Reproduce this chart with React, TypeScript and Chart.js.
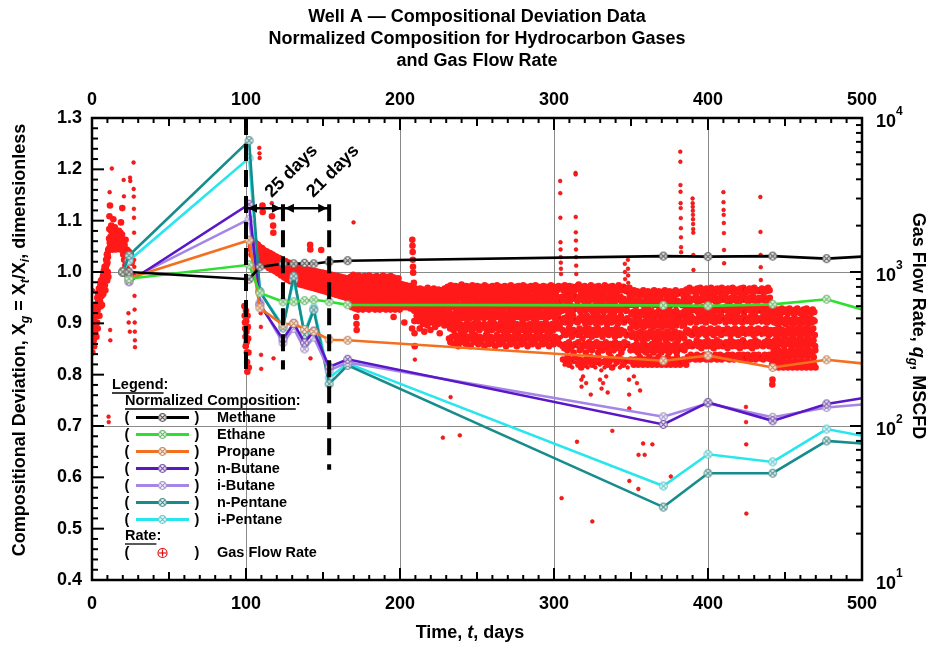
import { useEffect, useRef } from "react";
import { Chart, registerables } from "chart.js";

Chart.register(...registerables);

const FONT = "'Liberation Sans', Arial, Helvetica, sans-serif";

// ---- Normalized composition (X_t / X_i) at each gas sample ----
const sampleDays = [20, 24, 102, 109, 124, 131, 138, 144, 154, 166, 371, 400, 442, 477, 500];
const methane = [1.0, 1.0, 0.986, 1.01, 1.016, 1.016, 1.017, 1.016, 1.02, 1.022, 1.031, 1.03, 1.031, 1.026, 1.03];
const ethane = [1.0, 0.987, 1.014, 0.959, 0.942, 0.942, 0.944, 0.946, 0.942, 0.936, 0.935, 0.934, 0.937, 0.947, 0.927];
const propane = [1.0, 0.988, 1.062, 0.93, 0.897, 0.9, 0.888, 0.884, 0.868, 0.867, 0.827, 0.837, 0.814, 0.829, 0.822];
const nButane = [1.0, 0.981, 1.132, 0.936, 0.869, 0.9, 0.862, 0.885, 0.815, 0.83, 0.703, 0.746, 0.71, 0.743, 0.754];
const iButane = [1.0, 0.985, 1.103, 0.94, 0.862, 0.89, 0.85, 0.873, 0.808, 0.824, 0.718, 0.744, 0.717, 0.736, 0.742];
const nPentane = [1.0, 1.032, 1.256, 0.962, 0.891, 0.992, 0.878, 0.926, 0.782, 0.818, 0.542, 0.608, 0.608, 0.671, 0.666];
const iPentane = [1.0, 1.022, 1.222, 0.962, 0.895, 0.985, 0.882, 0.93, 0.794, 0.822, 0.583, 0.645, 0.63, 0.694, 0.681];

// ---- Gas flow rate readings, MSCFD: [day, reading, reading, ...] spread through the day ----
const rateStartup = [
  [0, 330, 410, 300, 450, 360, 520, 760, 380, 340],
  [1, 420, 360, 480, 330, 540, 390, 610],
  [2, 470, 400, 560, 440, 600, 520, 380],
  [3, 520, 610, 470, 680, 560, 430, 730],
  [4, 640, 720, 590, 780, 690, 520],
  [5, 700, 760, 640, 820, 690, 600, 880],
  [6, 780, 850, 700, 610, 900, 740],
  [7, 820, 950, 720, 880, 1020, 760],
  [8, 900, 1080, 820, 990, 760, 1040],
  [9, 1050, 1200, 960, 1120, 1300, 880],
  [10, 1150, 1320, 1000, 1250, 1390, 930, 115, 106],
  [11, 1420, 1650, 1900, 2300, 3300, 1550, 2700, 420, 360],
  [12, 1500, 1700, 1450, 1850, 2000, 1600, 1400, 4700],
  [13, 1600, 1450, 1750, 1900, 1400, 1650, 2200],
  [14, 1500, 1700, 1850, 1420, 1600, 1950],
  [15, 1450, 1600, 1800, 1400, 1700, 1550],
  [16, 1500, 1650, 1800, 1420, 1750, 1580],
  [17, 1600, 1750, 1450, 1850, 1550, 1700],
  [18, 1550, 1700, 1400, 1800, 1650, 2100],
  [19, 1480, 1650, 1400, 1750, 2600, 1600],
  [20, 1400, 1550, 1300, 1620, 3960, 3100, 1200],
  [21, 1300, 1500, 1200, 1400, 1100, 1620],
  [22, 1250, 1350, 1200, 1400, 1050, 1300],
  [23, 1300, 1380, 1220, 1350, 540, 470],
  [24, 1250, 1350, 1200, 1300, 410, 4100, 3900],
  [25, 1200, 1300, 1260, 1150],
  [27, 5140, 3460, 3090, 2570, 2250, 1800, 1200, 1080, 950, 700, 570, 470, 410, 360, 325],
];

const rateRestart = [
  [99, 600, 520, 470, 430, 380, 330],
  [100, 560, 480, 410, 350, 300, 260, 225],
  [101, 520, 440, 370, 300, 240],
  [103, 1610, 1470, 1390, 1300, 1540],
  [104, 1550, 1440, 1320, 1600, 1270],
  [105, 1490, 1400, 1310, 1570, 1250],
  [106, 1480, 1350, 1270, 1530, 1230],
  [107, 1420, 1340, 1260, 1510, 1190],
  [108, 1410, 1290, 1220, 1470, 1180, 6400, 5900, 5500],
  [109, 1370, 1290, 1200, 1440, 1160, 540, 440, 290, 235],
  [110, 1360, 1250, 1180, 1430, 1140, 2700, 2450],
  [111, 1320, 1250, 1160, 1390, 1130],
  [112, 1320, 1210, 1160, 1370, 1100],
  [113, 1280, 1210, 1120, 1360, 1100],
  [114, 1280, 1170, 1130, 1330, 1060],
  [115, 1240, 1180, 1090, 1330, 1070],
  [116, 1250, 1140, 1100, 1290, 1040, 2800, 2300],
  [117, 1210, 1150, 1070, 1300, 1040, 2000, 1800, 275],
  [118, 1210, 1110, 1070, 1260, 1010],
  [119, 1180, 1120, 1040, 1260, 1010],
  [120, 1180, 1080, 1040, 1230, 980],
  [121, 1150, 1090, 1010, 1230, 980],
  [122, 1160, 1050, 1010, 1200, 950],
  [123, 1120, 1060, 980, 1200, 950],
  [124, 1130, 1030, 980, 1170, 920],
  [125, 1090, 1040, 950, 1180, 920],
  [126, 1100, 1000, 960, 1140, 890],
  [127, 1070, 1010, 930, 1150, 900],
  [128, 1080, 980, 940, 1120, 870],
  [129, 1050, 990, 910, 1130, 880],
  [130, 1060, 960, 920, 1100, 860],
  [131, 1030, 970, 890, 1110, 870],
  [132, 1040, 940, 900, 1080, 850],
  [133, 1010, 950, 880, 1090, 850],
  [134, 1020, 930, 880, 1060, 830],
  [135, 990, 940, 860, 1070, 840],
  [136, 1000, 910, 870, 1040, 820],
  [137, 980, 920, 850, 1050, 830],
  [138, 990, 900, 860, 1030, 810],
  [139, 960, 910, 840, 1040, 820],
  [140, 970, 890, 850, 1020, 800],
  [141, 950, 900, 830, 1030, 800, 1500, 1400, 275],
  [142, 960, 880, 840, 1010, 790],
  [143, 940, 890, 820, 1020, 790],
  [144, 950, 870, 830, 1000, 780],
  [145, 930, 880, 810, 1010, 780],
  [146, 940, 860, 820, 990, 770],
  [147, 920, 870, 800, 1000, 770],
  [148, 930, 850, 810, 980, 760, 1390],
  [149, 910, 860, 790, 990, 760],
  [150, 920, 840, 800, 970, 750],
  [151, 900, 850, 780, 980, 750],
  [152, 910, 830, 790, 960, 740],
  [153, 890, 840, 770, 970, 740],
  [154, 900, 820, 780, 950, 730],
  [155, 880, 830, 760, 960, 730],
  [156, 890, 810, 770, 940, 720],
  [157, 870, 820, 750, 950, 720],
  [158, 880, 800, 760, 930, 710],
  [159, 860, 810, 740, 940, 710],
  [160, 870, 790, 750, 920, 700],
  [161, 850, 800, 730, 930, 700],
  [162, 860, 780, 740, 910, 690],
  [163, 840, 790, 720, 920, 690],
  [164, 850, 770, 730, 900, 680],
  [165, 830, 780, 710, 910, 680],
  [166, 840, 760, 720, 890, 670],
  [167, 820, 770, 700, 900, 670],
];

const rateMidA = [
  [168, 930, 830, 740, 660, 590],
  [169, 880, 800, 720, 640, 960, 2100],
  [170, 940, 810, 730, 670, 580],
  [171, 900, 790, 760, 650, 600, 510, 460, 420],
  [172, 920, 840, 700, 630, 570],
  [173, 950, 780, 750, 680, 600],
  [174, 870, 820, 720, 640, 590],
  [175, 930, 800, 740, 660, 570],
  [176, 890, 850, 710, 630, 610],
  [177, 940, 770, 730, 690, 580],
  [178, 900, 820, 760, 650, 600],
  [179, 880, 790, 700, 620, 570],
  [180, 950, 840, 740, 670, 590],
  [181, 910, 800, 720, 640, 600],
  [182, 870, 780, 750, 660, 580],
  [183, 930, 830, 710, 630, 570],
  [184, 890, 810, 740, 680, 600],
  [185, 940, 790, 720, 650, 590],
  [186, 900, 840, 760, 630, 570],
  [187, 880, 770, 700, 660, 610],
  [188, 920, 820, 730, 640, 580],
  [189, 950, 800, 750, 670, 590],
  [190, 870, 790, 720, 620, 570],
  [191, 910, 830, 740, 650, 600],
  [192, 930, 780, 710, 680, 580],
  [193, 890, 820, 760, 640, 570],
  [194, 940, 800, 730, 660, 590],
  [195, 880, 840, 700, 630, 600, 510],
  [196, 920, 790, 740, 670, 570],
  [197, 900, 810, 720, 650, 580],
  [198, 870, 780, 750, 630, 590],
  [199, 910, 830, 710, 660, 570],
  [200, 840, 760, 690, 630, 600],
  [201, 810, 740, 700, 620, 590],
  [202, 830, 770, 680, 640, 600, 470],
  [203, 800, 750, 690, 630, 590],
  [204, 820, 730, 680, 620, 600],
  [205, 790, 760, 700, 640, 590],
  [206, 810, 740, 670, 610, 580],
  [207, 780, 730, 690, 630, 600, 430],
  [208, 1620, 1480, 1350, 1200, 1080, 990, 800, 720, 650],
  [209, 850, 700, 560, 480, 400, 330, 270, 620, 760],
  [210, 780, 700, 640, 580, 520],
  [211, 760, 680, 610, 540, 480],
  [212, 740, 650, 590, 520, 430],
  [213, 780, 700, 620, 560, 490],
  [214, 720, 660, 580, 510, 460],
  [215, 770, 690, 600, 550, 410],
  [216, 750, 640, 620, 530, 480],
  [217, 730, 680, 570, 500, 450],
  [218, 790, 700, 610, 540, 490],
  [219, 740, 660, 590, 520, 420],
  [220, 760, 690, 630, 560, 470],
  [221, 720, 650, 580, 510, 490],
  [222, 780, 670, 600, 550, 440],
  [223, 750, 700, 620, 530, 480],
  [224, 730, 640, 570, 500, 460],
  [225, 770, 690, 610, 540, 400],
  [226, 740, 660, 590, 520, 480],
  [227, 760, 680, 630, 560, 490, 84],
  [228, 720, 650, 580, 510, 450],
  [229, 780, 700, 600, 540, 470],
  [230, 750, 670, 620, 530, 490],
];

const rateMidB = [
  [231, 800, 690, 610, 520, 450, 370],
  [232, 760, 700, 580, 540, 430, 350, 154],
  [233, 820, 660, 600, 500, 460, 380],
  [234, 780, 710, 630, 530, 420, 340],
  [235, 740, 680, 590, 510, 470, 390],
  [236, 810, 650, 620, 550, 440, 360],
  [237, 770, 700, 570, 490, 430, 330],
  [238, 800, 670, 610, 540, 460, 380, 87],
  [239, 750, 720, 600, 520, 410, 350],
  [240, 830, 680, 580, 500, 450, 370],
  [241, 790, 660, 630, 530, 440, 390],
  [242, 760, 700, 590, 560, 420, 340],
  [243, 810, 690, 610, 510, 470, 360],
  [244, 740, 650, 570, 540, 430, 380],
  [245, 800, 710, 620, 500, 450, 330],
  [246, 770, 680, 600, 530, 410, 370],
  [247, 820, 670, 580, 550, 460, 350],
  [248, 750, 700, 610, 520, 440, 390],
  [249, 790, 660, 590, 490, 430, 360],
  [250, 810, 720, 630, 540, 470, 340],
  [251, 760, 680, 570, 510, 420, 380],
  [252, 800, 650, 600, 530, 450, 350],
  [253, 780, 700, 620, 560, 440, 370],
  [254, 740, 690, 580, 500, 460, 330],
  [255, 820, 660, 610, 520, 430, 390],
  [256, 770, 710, 590, 540, 410, 360],
  [257, 800, 680, 600, 510, 450, 340],
  [258, 750, 670, 630, 550, 470, 380],
  [259, 790, 700, 570, 530, 420, 350],
  [260, 810, 650, 610, 490, 440, 370],
  [261, 760, 720, 590, 520, 460, 330],
  [262, 780, 690, 620, 540, 430, 390],
  [263, 820, 660, 580, 510, 450, 360],
  [264, 740, 700, 600, 550, 420, 340],
  [265, 800, 680, 630, 500, 470, 380],
  [266, 770, 670, 570, 530, 440, 350],
  [267, 790, 710, 610, 520, 410, 370],
  [268, 810, 650, 590, 540, 460, 330],
  [269, 750, 690, 620, 490, 430, 390],
  [270, 800, 720, 600, 510, 450, 360],
  [271, 760, 680, 580, 550, 420, 340],
  [272, 820, 660, 610, 530, 470, 380],
  [273, 780, 700, 590, 500, 440, 350],
  [274, 740, 690, 630, 520, 410, 370],
  [275, 800, 670, 570, 540, 460, 330],
  [276, 770, 710, 600, 510, 430, 390],
  [277, 810, 650, 620, 530, 450, 360],
  [278, 750, 680, 580, 560, 420, 340],
  [279, 790, 720, 610, 490, 470, 380],
  [280, 820, 690, 590, 520, 440, 350],
  [281, 760, 660, 630, 540, 410, 370],
  [282, 800, 700, 570, 500, 450, 330],
  [283, 780, 670, 600, 530, 430, 390],
  [284, 740, 710, 620, 550, 460, 360],
  [285, 810, 680, 590, 510, 420, 340],
  [286, 770, 650, 610, 520, 470, 380],
  [287, 790, 690, 580, 540, 440, 350],
  [288, 820, 720, 600, 490, 410, 370],
  [289, 750, 660, 630, 530, 450, 330],
  [290, 800, 700, 570, 550, 430, 390],
  [291, 760, 680, 610, 510, 460, 360],
  [292, 780, 670, 590, 520, 420, 340],
  [293, 810, 710, 620, 540, 440, 380],
  [294, 740, 650, 600, 500, 470, 350],
  [295, 800, 690, 580, 530, 410, 370],
  [296, 770, 720, 630, 510, 450, 330],
  [297, 790, 660, 570, 550, 430, 390],
  [298, 820, 700, 610, 520, 460, 360],
  [299, 750, 680, 590, 540, 420, 340],
  [300, 800, 670, 620, 500, 440, 380],
  [301, 780, 710, 600, 530, 470, 350],
  [302, 760, 690, 580, 510, 430, 370],
  [303, 810, 650, 610, 550, 450, 340],
  [304, 3900, 3250, 2250, 1560, 1400, 1250, 1150, 1050, 970, 800, 650, 500, 380, 34],
];

const rateLateA = [
  [305, 800, 690, 560, 480, 420, 330, 270],
  [306, 760, 650, 590, 500, 400, 320, 250],
  [307, 820, 700, 570, 470, 390, 340, 260],
  [308, 780, 660, 600, 510, 410, 310, 280],
  [309, 740, 680, 550, 490, 430, 350, 250],
  [310, 810, 640, 580, 460, 400, 320, 270],
  [311, 770, 710, 600, 500, 380, 330, 240],
  [312, 800, 670, 560, 520, 420, 300, 260],
  [313, 750, 690, 590, 480, 410, 340, 280],
  [314, 4400, 4300, 2280, 1810, 1600, 1400, 1250, 1100, 970, 820, 700, 570, 490, 400, 330, 260, 79],
  [315, 790, 650, 610, 470, 390, 350, 250],
  [316, 830, 680, 570, 500, 430, 310, 270],
  [317, 760, 700, 550, 490, 400, 320, 240, 200, 180],
  [318, 800, 660, 590, 510, 370, 330, 260, 210],
  [319, 740, 690, 600, 480, 420, 340, 250],
  [320, 810, 640, 560, 460, 410, 300, 270, 190],
  [321, 770, 670, 580, 520, 390, 330, 240],
  [322, 790, 710, 610, 500, 430, 350, 260],
  [323, 750, 650, 570, 470, 400, 320, 280, 160],
  [324, 820, 680, 590, 490, 380, 310, 250, 24],
  [325, 780, 700, 550, 510, 420, 340, 270],
  [326, 760, 660, 600, 480, 410, 330, 240],
  [327, 800, 690, 570, 460, 390, 350, 260],
  [328, 740, 640, 580, 520, 430, 300, 280],
  [329, 810, 670, 560, 500, 400, 320, 250, 200],
  [330, 770, 710, 590, 470, 410, 340, 230, 175],
  [331, 790, 650, 610, 490, 380, 310, 260, 190],
  [332, 750, 680, 550, 510, 420, 330, 240],
  [333, 820, 700, 600, 480, 400, 350, 270, 210],
  [334, 780, 660, 570, 460, 430, 320, 250, 165],
  [335, 760, 690, 580, 500, 390, 300, 260],
  [336, 800, 640, 560, 520, 410, 340, 280],
  [337, 740, 670, 610, 470, 420, 330, 240, 93],
  [338, 810, 710, 590, 490, 400, 310, 270],
  [339, 770, 650, 550, 510, 380, 350, 250],
  [340, 790, 680, 600, 480, 430, 320, 260],
  [341, 750, 700, 570, 460, 410, 330, 280],
  [342, 820, 660, 580, 500, 390, 340, 240],
  [343, 780, 690, 560, 520, 420, 300, 270],
  [344, 760, 640, 600, 490, 400, 320, 250],
  [345, 800, 670, 590, 470, 410, 350, 260],
  [346, 1130, 1000, 900, 800, 740, 610, 550, 480, 380, 330, 270],
  [347, 770, 650, 560, 500, 390, 340, 240],
  [348, 1200, 1050, 950, 850, 720, 600, 480, 400, 330, 260, 200, 160, 130, 44],
  [349, 790, 690, 610, 480, 430, 310, 270],
  [350, 740, 640, 530, 470, 380, 320, 260],
  [351, 700, 610, 550, 450, 400, 330, 250, 210],
  [352, 760, 650, 520, 480, 390, 310, 270],
  [353, 720, 600, 560, 440, 370, 340, 260, 190],
  [354, 750, 630, 540, 460, 400, 300, 250, 39, 65],
  [355, 690, 660, 510, 490, 380, 330, 280, 170],
  [356, 740, 620, 550, 450, 410, 320, 260],
  [357, 710, 640, 530, 470, 360, 310, 250, 77],
  [358, 760, 610, 560, 440, 390, 340, 270, 65],
  [359, 730, 650, 520, 480, 400, 300, 260],
  [360, 700, 630, 540, 460, 370, 330, 250],
  [361, 750, 600, 550, 450, 390, 320, 280],
  [362, 720, 660, 510, 490, 410, 310, 260],
  [363, 740, 620, 560, 470, 380, 340, 250, 76],
  [364, 690, 640, 530, 440, 400, 300, 270],
  [365, 760, 610, 540, 480, 360, 330, 260],
  [366, 710, 650, 520, 460, 390, 320, 250],
  [367, 730, 630, 550, 450, 410, 310, 280],
  [368, 750, 600, 560, 470, 370, 340, 260],
  [369, 700, 660, 510, 490, 380, 300, 250],
  [370, 740, 620, 540, 440, 400, 330, 270],
  [371, 720, 640, 530, 480, 390, 320, 260],
  [372, 760, 610, 550, 460, 360, 310, 250],
  [373, 690, 650, 520, 450, 410, 340, 280],
  [374, 730, 630, 560, 470, 380, 300, 260],
  [375, 750, 600, 540, 490, 400, 330, 250, 47],
  [376, 710, 660, 510, 440, 370, 320, 270],
  [377, 740, 620, 550, 460, 390, 310, 260],
  [378, 700, 640, 530, 480, 410, 340, 250],
  [379, 760, 610, 560, 450, 380, 300, 280],
  [380, 720, 650, 520, 470, 360, 330, 260],
  [381, 740, 630, 540, 490, 400, 320, 250],
  [382, 6040, 5200, 3670, 3320, 2800, 2600, 2240, 1925, 1680, 1450, 1345, 720, 600, 520, 440, 380, 310, 260],
  [383, 750, 620, 530, 470, 390, 330, 270],
  [384, 710, 660, 550, 450, 370, 310, 260],
  [385, 730, 600, 510, 480, 410, 340, 250],
];

const rateLateB = [
  [386, 770, 650, 580, 480, 420, 330, 280],
  [387, 740, 680, 550, 500, 400, 350, 270],
  [388, 790, 640, 590, 470, 410, 340, 290],
  [389, 750, 670, 560, 510, 390, 330, 275],
  [390, 3000, 2800, 2650, 2500, 2350, 2200, 2050, 1900, 1800, 1290, 1030, 780, 660, 560, 480, 400, 330, 280],
  [391, 760, 660, 570, 490, 430, 340, 270],
  [392, 730, 690, 590, 470, 410, 360, 290],
  [393, 780, 640, 550, 500, 390, 330, 280],
  [394, 750, 670, 580, 520, 420, 350, 270],
  [395, 790, 650, 560, 480, 400, 320, 285],
  [396, 740, 680, 590, 490, 430, 340, 275],
  [397, 770, 660, 570, 510, 410, 350, 290],
  [398, 750, 690, 550, 470, 390, 330, 270],
  [399, 780, 640, 580, 500, 420, 360, 280],
  [400, 760, 670, 560, 490, 400, 340, 290],
  [401, 730, 650, 590, 520, 430, 330, 270],
  [402, 790, 680, 570, 480, 410, 350, 280],
  [403, 750, 660, 550, 500, 390, 320, 275],
  [404, 770, 690, 580, 470, 420, 340, 290],
  [405, 740, 640, 560, 510, 400, 360, 270],
  [406, 780, 670, 590, 490, 430, 330, 280],
  [407, 760, 650, 570, 480, 410, 350, 290],
  [408, 730, 680, 550, 520, 390, 340, 270],
  [409, 790, 660, 580, 500, 420, 330, 285],
  [410, 3300, 2840, 2530, 2350, 2080, 1790, 1390, 1140, 750, 660, 560, 490, 410, 340, 280],
  [411, 770, 690, 590, 470, 400, 350, 275],
  [412, 740, 650, 560, 510, 430, 320, 290],
  [413, 780, 670, 580, 490, 410, 340, 270],
  [414, 760, 640, 550, 480, 390, 360, 280],
  [415, 750, 680, 590, 500, 420, 330, 290],
  [416, 790, 660, 570, 520, 400, 350, 270],
  [417, 730, 690, 560, 470, 430, 340, 285],
  [418, 770, 650, 580, 490, 410, 330, 275],
  [419, 760, 670, 550, 510, 390, 350, 290],
  [420, 740, 640, 590, 480, 420, 320, 270],
  [421, 780, 680, 570, 500, 400, 340, 280],
  [422, 750, 660, 560, 470, 430, 360, 290],
  [423, 790, 690, 580, 520, 410, 330, 270],
  [424, 770, 650, 550, 490, 390, 350, 280, 133, 106, 76, 27],
  [425, 740, 670, 590, 480, 420, 340, 290],
  [426, 760, 640, 570, 500, 400, 330, 275],
  [427, 780, 680, 560, 510, 430, 350, 270],
  [428, 750, 660, 580, 470, 410, 320, 285],
  [429, 730, 690, 550, 490, 390, 340, 290],
  [430, 790, 650, 590, 520, 420, 360, 270],
  [431, 770, 670, 570, 480, 400, 330, 280],
  [432, 750, 640, 560, 500, 430, 350, 290],
  [433, 760, 680, 580, 490, 410, 340, 275],
  [434, 3070, 1820, 1290, 1075, 887, 740, 660, 550, 470, 390, 330, 280],
  [435, 780, 660, 590, 510, 420, 330, 270],
  [436, 740, 690, 550, 480, 400, 350, 290],
  [437, 770, 650, 570, 500, 430, 340, 280],
  [438, 750, 670, 580, 470, 410, 360, 275],
  [439, 790, 640, 560, 520, 390, 330, 290],
  [440, 760, 680, 590, 490, 420, 350, 270],
  [441, 570, 480, 410, 350, 290, 250, 186, 200],
  [442, 550, 500, 400, 340, 310, 240],
  [443, 580, 470, 420, 360, 300, 260],
  [444, 540, 490, 390, 330, 280, 250],
  [445, 560, 460, 410, 370, 310, 240],
  [446, 570, 500, 430, 350, 290, 260],
  [447, 530, 470, 400, 340, 300, 250],
  [448, 580, 490, 420, 360, 280, 240],
  [449, 550, 480, 390, 330, 310, 260],
  [450, 560, 460, 410, 370, 290, 250],
  [451, 570, 500, 400, 350, 300, 240],
  [452, 540, 470, 430, 340, 280, 260],
  [453, 580, 490, 410, 360, 310, 250],
  [454, 550, 480, 390, 330, 290, 240],
  [455, 560, 460, 420, 370, 300, 260],
  [456, 530, 500, 400, 350, 280, 250],
  [457, 570, 470, 410, 340, 310, 240],
  [458, 580, 490, 430, 360, 290, 260],
  [459, 550, 480, 390, 330, 300, 250],
  [460, 540, 460, 420, 370, 280, 240],
  [461, 560, 500, 400, 350, 310, 260],
  [462, 570, 470, 410, 340, 290, 250],
  [463, 530, 490, 430, 360, 300, 240],
  [464, 580, 480, 390, 330, 280, 260],
  [465, 550, 460, 420, 370, 310, 250],
  [466, 560, 500, 400, 350, 290, 240],
  [467, 540, 470, 410, 340, 300, 260],
  [468, 570, 490, 430, 360, 280, 250],
  [469, 550, 480, 390, 330, 310, 240],
];

// ---- Axis labels and event annotations ----
const timeLabels = [0, 100, 200, 300, 400, 500];
const deviationLabels = [0.4, 0.5, 0.6, 0.7, 0.8, 0.9, 1.0, 1.1, 1.2, 1.3];
const rateDecades = [1, 2, 3, 4];
const timeGrid = [100, 200, 300, 400];
const rateGrid = [100, 1000];
const eventDays = [100, 124, 154];
const eventLabels = ["25 days", "21 days"];

const compositions = [
  { name: "Methane", values: methane, color: "#000000", mark: "#5c5c5c" },
  { name: "Ethane", values: ethane, color: "#2ee02e", mark: "#6fb86f" },
  { name: "Propane", values: propane, color: "#f5701e", mark: "#c48a62" },
  { name: "n-Butane", values: nButane, color: "#5a17c8", mark: "#7a5aa8" },
  { name: "i-Butane", values: iButane, color: "#a586e6", mark: "#a596c8" },
  { name: "n-Pentane", values: nPentane, color: "#178c8c", mark: "#4f8f8f" },
  { name: "i-Pentane", values: iPentane, color: "#28e6ee", mark: "#66c8cc" },
];

type Seg = { s: string; it?: boolean; sub?: boolean; sup?: boolean };

function segFont(g: Seg, size: number) {
  const sz = g.sub || g.sup ? size * 0.68 : size;
  return `${g.it ? "italic " : ""}bold ${sz}px ${FONT}`;
}
function richWidth(ctx: CanvasRenderingContext2D, segs: Seg[], size: number) {
  let w = 0;
  for (const g of segs) {
    ctx.font = segFont(g, size);
    w += ctx.measureText(g.s).width;
  }
  return w;
}
function drawRich(ctx: CanvasRenderingContext2D, segs: Seg[], x: number, y: number, size: number) {
  ctx.textAlign = "left";
  ctx.textBaseline = "middle";
  let cx = x;
  for (const g of segs) {
    ctx.font = segFont(g, size);
    const dy = g.sub ? size * 0.32 : g.sup ? -size * 0.42 : 0;
    ctx.fillText(g.s, cx, y + dy);
    cx += ctx.measureText(g.s).width;
  }
}
function drawRichCentered(ctx: CanvasRenderingContext2D, segs: Seg[], cx: number, cy: number, size: number, angle: number) {
  ctx.save();
  ctx.translate(cx, cy);
  ctx.rotate(angle);
  const w = richWidth(ctx, segs, size);
  drawRich(ctx, segs, -w / 2, 0, size);
  ctx.restore();
}

// Readings of a day are spread evenly across that day. Readings that sit with the
// bulk of their day form the continuous production band; the rest are excursions.
function expandReadings(rows: number[][]) {
  const pts: { x: number; y: number; band: boolean }[] = [];
  for (const row of rows) {
    const vals = row.slice(1);
    const n = vals.length;
    const sorted = [...vals].sort((a, b) => a - b);
    const median = sorted[Math.floor(n / 2)];
    vals.forEach((q, k) => {
      const band = n <= 9 && Math.abs(Math.log10(q / median)) < 0.3;
      pts.push({ x: row[0] + k / n, y: q, band });
    });
  }
  return pts;
}

function makeCrossMarker(color: string) {
  const c = document.createElement("canvas");
  c.width = 11;
  c.height = 11;
  const g = c.getContext("2d")!;
  g.strokeStyle = color;
  g.lineWidth = 1.2;
  g.fillStyle = "rgba(255,255,255,0.85)";
  g.beginPath();
  g.arc(5.5, 5.5, 3.8, 0, Math.PI * 2);
  g.fill();
  g.stroke();
  const d = 2.6;
  g.beginPath();
  g.moveTo(5.5 - d, 5.5 - d);
  g.lineTo(5.5 + d, 5.5 + d);
  g.moveTo(5.5 + d, 5.5 - d);
  g.lineTo(5.5 - d, 5.5 + d);
  g.stroke();
  return c;
}

function line(ctx: CanvasRenderingContext2D, x1: number, y1: number, x2: number, y2: number) {
  ctx.beginPath();
  ctx.moveTo(x1, y1);
  ctx.lineTo(x2, y2);
  ctx.stroke();
}

function arrowHead(ctx: CanvasRenderingContext2D, x: number, y: number, dir: number) {
  ctx.beginPath();
  ctx.moveTo(x, y);
  ctx.lineTo(x - dir * 9, y - 4.5);
  ctx.lineTo(x - dir * 9, y + 4.5);
  ctx.closePath();
  ctx.fill();
}

function underlined(ctx: CanvasRenderingContext2D, text: string, x: number, y: number, tail: string) {
  ctx.textAlign = "left";
  ctx.textBaseline = "middle";
  ctx.fillText(text + tail, x, y);
  const w = ctx.measureText(text).width;
  ctx.lineWidth = 1.3;
  line(ctx, x, y + 8, x + w, y + 8);
}

export default function App() {
  const canvasRef = useRef<HTMLCanvasElement | null>(null);

  useEffect(() => {
    const canvas = canvasRef.current;
    if (!canvas) return;
    const markers = compositions.map((c) => makeCrossMarker(c.mark));
    const last = sampleDays.length - 1;
    const arrowLevel = 1.124;

    const decor = {
      id: "decor",
      beforeDraw(chart: any) {
        const { ctx } = chart;
        ctx.save();
        ctx.fillStyle = "#ffffff";
        ctx.fillRect(0, 0, chart.width, chart.height);
        ctx.restore();
      },
      beforeDatasetsDraw(chart: any) {
        const { ctx, chartArea: a, scales } = chart;
        ctx.save();
        ctx.strokeStyle = "#8a8a8a";
        ctx.lineWidth = 1;
        for (const t of timeGrid) {
          const px = Math.round(scales.x.getPixelForValue(t)) + 0.5;
          line(ctx, px, a.top, px, a.bottom);
        }
        for (const q of rateGrid) {
          const py = Math.round(scales.yRate.getPixelForValue(q)) + 0.5;
          line(ctx, a.left, py, a.right, py);
        }
        ctx.restore();
      },
      afterDatasetsDraw(chart: any) {
        const { ctx, chartArea: a, scales } = chart;
        const X = (t: number) => scales.x.getPixelForValue(t);
        const Y = (v: number) => scales.y.getPixelForValue(v);
        const YR = (q: number) => scales.yRate.getPixelForValue(q);
        ctx.save();

        // event markers: dashed verticals, spans and labels
        const ay = Y(arrowLevel);
        ctx.strokeStyle = "#000";
        ctx.fillStyle = "#000";
        ctx.lineWidth = 4;
        ctx.setLineDash([17, 9]);
        line(ctx, X(eventDays[0]), a.top, X(eventDays[0]), Y(0.805));
        line(ctx, X(eventDays[1]), ay - 4, X(eventDays[1]), Y(0.81));
        line(ctx, X(eventDays[2]), ay - 4, X(eventDays[2]), Y(0.615));
        ctx.setLineDash([]);
        ctx.lineWidth = 2.5;
        line(ctx, X(eventDays[0]), ay, X(eventDays[2]), ay);
        arrowHead(ctx, X(eventDays[0]) + 2, ay, -1);
        arrowHead(ctx, X(eventDays[1]) - 2, ay, 1);
        arrowHead(ctx, X(eventDays[1]) + 2, ay, -1);
        arrowHead(ctx, X(eventDays[2]) - 2, ay, 1);
        ctx.font = `bold 18px ${FONT}`;
        ctx.textAlign = "center";
        ctx.textBaseline = "middle";
        for (let i = 0; i < 2; i++) {
          const mid = (X(eventDays[i]) + X(eventDays[i + 1])) / 2;
          ctx.save();
          ctx.translate(mid + 27, ay - 37);
          ctx.rotate(-Math.PI / 4);
          ctx.fillText(eventLabels[i], 0, 0);
          ctx.restore();
        }

        // inward ticks
        ctx.strokeStyle = "#000";
        ctx.lineWidth = 2;
        for (let t = 0; t <= 500; t += 10) {
          const len = t % 100 === 0 ? 12 : t % 50 === 0 ? 8 : 5;
          const px = X(t);
          line(ctx, px, a.bottom, px, a.bottom - len);
          line(ctx, px, a.top, px, a.top + len);
        }
        for (let i = 0; i <= 45; i++) {
          const py = Y(0.4 + i * 0.02);
          line(ctx, a.left, py, a.left + (i % 5 === 0 ? 12 : 6), py);
        }
        for (let d = 1; d <= 3; d++) {
          for (let m = 1; m <= 9; m++) {
            const py = YR(m * Math.pow(10, d));
            line(ctx, a.right, py, a.right - (m === 1 ? 12 : 6), py);
          }
        }
        // frame
        ctx.lineWidth = 2.5;
        ctx.strokeRect(a.left, a.top, a.right - a.left, a.bottom - a.top);

        // tick labels
        ctx.fillStyle = "#000";
        ctx.font = `bold 18px ${FONT}`;
        ctx.textAlign = "center";
        ctx.textBaseline = "middle";
        for (const t of timeLabels) {
          ctx.fillText(String(t), X(t), a.top - 18);
          ctx.fillText(String(t), X(t), a.bottom + 24);
        }
        ctx.textAlign = "right";
        for (const v of deviationLabels) ctx.fillText(v.toFixed(1), a.left - 10, Y(v));
        for (const d of rateDecades) {
          const py = YR(Math.pow(10, d));
          ctx.font = `bold 18px ${FONT}`;
          ctx.textAlign = "left";
          ctx.fillText("10", a.right + 14, py + 4);
          ctx.font = `bold 12px ${FONT}`;
          ctx.fillText(String(d), a.right + 34, py - 6);
        }

        // axis titles
        drawRichCentered(ctx, [{ s: "Time, " }, { s: "t", it: true }, { s: ", days" }], (a.left + a.right) / 2 - 7, a.bottom + 53, 18, 0);
        drawRichCentered(
          ctx,
          [
            { s: "Compositional Deviation, X" },
            { s: "g", it: true, sub: true },
            { s: " = X" },
            { s: "t", it: true, sub: true },
            { s: "/X" },
            { s: "i", it: true, sub: true },
            { s: ", dimensionless" },
          ],
          20,
          340,
          18,
          -Math.PI / 2
        );
        drawRichCentered(
          ctx,
          [{ s: "Gas Flow Rate, " }, { s: "q", it: true }, { s: "g", it: true, sub: true }, { s: ", MSCFD" }],
          918,
          326,
          18,
          Math.PI / 2
        );

        // chart title
        ctx.font = `bold 18px ${FONT}`;
        ctx.textAlign = "center";
        ctx.textBaseline = "middle";
        const tx = (a.left + a.right) / 2;
        ctx.fillText("Well A \u2014 Compositional Deviation Data", tx, 17);
        ctx.fillText("Normalized Composition for Hydrocarbon Gases", tx, 39);
        ctx.fillText("and Gas Flow Rate", tx, 61);

        // legend
        ctx.font = `bold 14.5px ${FONT}`;
        ctx.strokeStyle = "#000";
        underlined(ctx, "Legend", 112, 385, ":");
        underlined(ctx, "Normalized Composition", 125, 401, ":");
        compositions.forEach((c, i) => {
          const ry = 417.5 + i * 17;
          ctx.fillStyle = "#000";
          ctx.textAlign = "center";
          ctx.fillText("(", 127, ry);
          ctx.fillText(")", 197, ry);
          ctx.textAlign = "left";
          ctx.fillText(c.name, 217, ry);
          ctx.strokeStyle = c.color;
          ctx.lineWidth = 3;
          line(ctx, 136, ry, 189, ry);
          ctx.drawImage(markers[i], 162.5 - 5.5, ry - 5.5);
        });
        ctx.fillStyle = "#000";
        ctx.strokeStyle = "#000";
        underlined(ctx, "Rate", 125, 536, ":");
        const gy = 553;
        ctx.textAlign = "center";
        ctx.fillText("(", 127, gy);
        ctx.fillText(")", 197, gy);
        ctx.textAlign = "left";
        ctx.fillText("Gas Flow Rate", 217, gy);
        ctx.strokeStyle = "#e01010";
        ctx.lineWidth = 1.2;
        ctx.beginPath();
        ctx.arc(162.5, gy, 4.5, 0, Math.PI * 2);
        ctx.stroke();
        line(ctx, 162.5, gy - 3.5, 162.5, gy + 3.5);
        line(ctx, 159, gy, 166, gy);

        ctx.restore();
      },
    };

    const lineSets = compositions.map((c, i) => ({
      label: c.name,
      data: sampleDays.map((d, k) => ({ x: d, y: c.values[k] })),
      yAxisID: "y",
      borderColor: c.color,
      backgroundColor: c.color,
      borderWidth: 2.6,
      pointStyle: markers[i],
      pointRadius: (ctx: any) => (ctx.dataIndex === last ? 0 : 4),
      tension: 0,
    }));

    const ratePoints = [
      ...expandReadings(rateStartup),
      ...expandReadings(rateRestart),
      ...expandReadings(rateMidA),
      ...expandReadings(rateMidB),
      ...expandReadings(rateLateA),
      ...expandReadings(rateLateB),
    ];

    const chart = new Chart(canvas, {
      type: "line",
      data: {
        datasets: [
          ...lineSets,
          {
            label: "Gas Flow Rate",
            data: ratePoints,
            yAxisID: "yRate",
            showLine: false,
            pointStyle: "circle",
            pointRadius: (ctx: any) => (ctx.raw && ctx.raw.band ? 3.3 : 1.9),
            pointBorderWidth: (ctx: any) => (ctx.raw && ctx.raw.band ? 0 : 0.5),
            pointBackgroundColor: "#ff1a1a",
            pointBorderColor: "#d40000",
          } as any,
        ],
      },
      options: {
        animation: false,
        responsive: false,
        devicePixelRatio: 1,
        layout: { padding: { left: 92, right: 68, top: 118, bottom: 65 } },
        plugins: { legend: { display: false }, tooltip: { enabled: false }, title: { display: false } },
        scales: {
          x: { type: "linear", min: 0, max: 500, display: false },
          y: { type: "linear", min: 0.4, max: 1.3, display: false },
          yRate: { type: "logarithmic", min: 10, max: 10000, display: false, position: "right" },
        },
      },
      plugins: [decor],
    });

    return () => chart.destroy();
  }, []);

  return (
    <div style={{ position: "absolute", left: 0, top: 0, width: 930, height: 645, background: "#fff" }}>
      <canvas ref={canvasRef} width={930} height={645} style={{ display: "block" }} />
    </div>
  );
}
